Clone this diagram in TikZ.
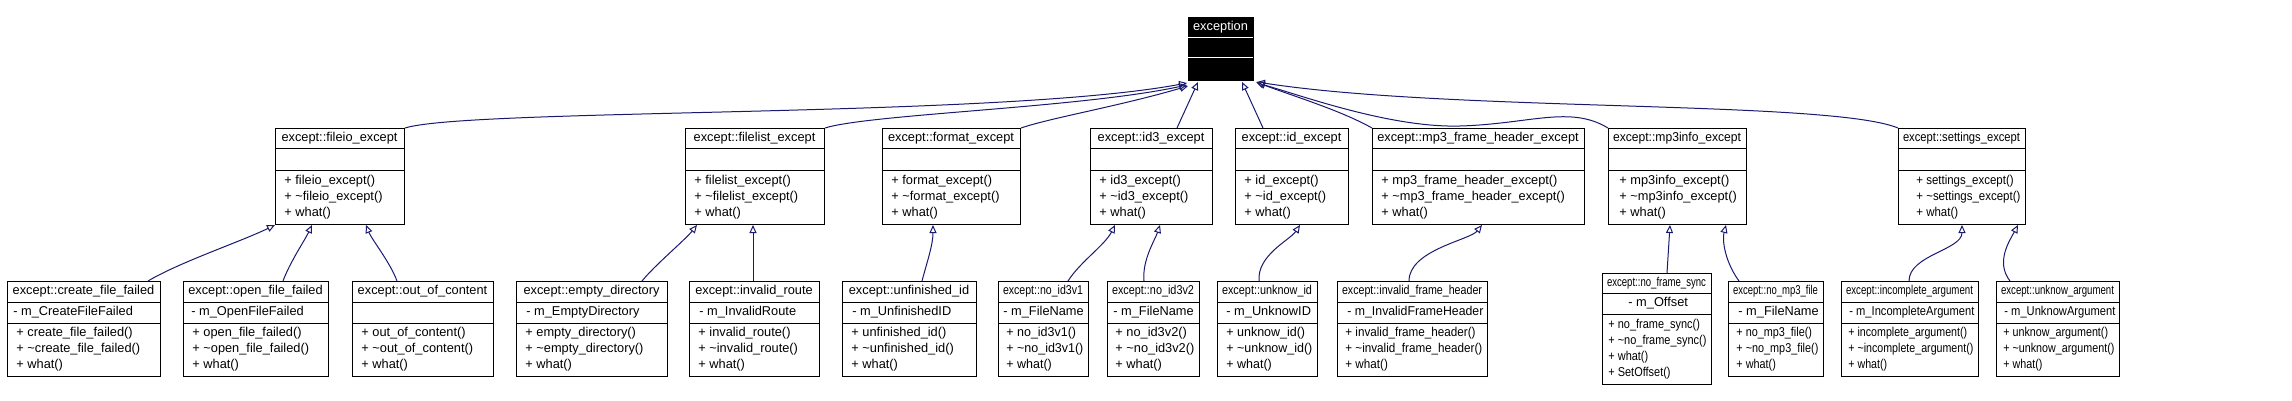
\documentclass[tikz,border=0pt]{standalone}
\usepackage{fontspec}
\setmainfont{Liberation Sans}
\usetikzlibrary{arrows.meta}
\usetikzlibrary{calc}
\definecolor{inheritcolor}{RGB}{25, 25, 112}
\tikzstyle{classtext} = [inner sep=0pt, font=\fontsize{6.4}{8}\selectfont]
\tikzstyle{inherit} = [-{Triangle[open, length=4pt, width=3.5pt]}, line width=0.5pt, inheritcolor]
\newsavebox{\classfitbox}
\newcommand{\fitclasstext}[2]{%
	\sbox{\classfitbox}{#2}%
	\ifdim\wd\classfitbox>#1\relax
		\pgfmathsetmacro{\classfitratio}{#1/\the\wd\classfitbox}%
		\scalebox{\classfitratio}[1]{\usebox{\classfitbox}}%
	\else\usebox{\classfitbox}\fi}
\tikzset{
	class box/.pic={
		\tikzset{/classbox/.cd, #1}
		\pgfmathsetlengthmacro{\ctitlew}{(\cwidth-10)*0.5pt}
		\pgfmathsetlengthmacro{\cattrw}{(\cwidth-\caindent-4)*0.5pt}
		\pgfmathsetlengthmacro{\cmethw}{(\cwidth-\cindent-5)*0.5pt}

		% frame of the class, named by its label
		\node [draw=black, fill=\cfill, line width=0.5pt, inner sep=0pt, anchor=north west, minimum width=\cwidth*0.5pt, minimum height=\cheight*0.5pt] (\clabel) at (0, 0) {};

		% separators between name, attributes and methods
		\draw[\csep, line width=0.5pt] (0, \ctsep) -- (\cwidth, \ctsep);
		\draw[\csep, line width=0.5pt] (0, \casep) -- (\cwidth, \casep);

		% texts
		\node[classtext, text=\ctext] at (\cwidth/2, \ctsep/2) {\fitclasstext{\ctitlew}{\ctitle}};
		\node[classtext, text=\ctext, anchor=west] at (\caindent, \ctsep/2+\casep/2) {\fitclasstext{\cattrw}{\cattr}};
		\node[classtext, text=\ctext, anchor=west] at (\cindent, \casep/2+\cheight/2) {\fitclasstext{\cmethw}{\begin{tabular}{@{}l@{}}\cmethods\end{tabular}}};
	},
	/classbox/.search also={/tikz},
	/classbox/.cd,
	width/.store in=\cwidth,
	height/.store in=\cheight,
	tsep/.store in=\ctsep,
	asep/.store in=\casep,
	indent/.store in=\cindent,
	aindent/.store in=\caindent,
	title/.store in=\ctitle,
	attr/.store in=\cattr,
	methods/.store in=\cmethods,
	label/.store in=\clabel,
	boxfill/.store in=\cfill,
	boxsep/.store in=\csep,
	boxtext/.store in=\ctext,
	width=100,
	height=96,
	tsep=21,
	asep=43,
	indent=9,
	aindent=8,
	title=,
	attr=,
	methods=,
	label=dummy,
	boxfill=white,
	boxsep=black,
	boxtext=black,
}
\newcommand{\tld}{\textasciitilde}

\begin{document}
\begin{tikzpicture}[x=0.5pt, y=-0.5pt]
	\useasboundingbox (0, 0) rectangle (2292, 401);

	%
	% Base class
	\pic at (1188, 17) {class box={width=65, height=63, tsep=21, asep=41, label=exception, title=exception, boxfill=black, boxsep=white, boxtext=white}};

	%
	% Middle row

	\pic at (275, 128) {class box={width=129, label=fileio, title=except::fileio\_except, methods={+ fileio\_except()\\+ \tld fileio\_except()\\+ what()}}};
	\pic at (685, 128) {class box={width=139, label=filelist, title=except::filelist\_except, methods={+ filelist\_except()\\+ \tld filelist\_except()\\+ what()}}};
	\pic at (882, 128) {class box={width=138, label=format, title=except::format\_except, methods={+ format\_except()\\+ \tld format\_except()\\+ what()}}};
	\pic at (1090, 128) {class box={width=122, label=id3, title=except::id3\_except, methods={+ id3\_except()\\+ \tld id3\_except()\\+ what()}}};
	\pic at (1235, 128) {class box={width=113, label=id, title=except::id\_except, methods={+ id\_except()\\+ \tld id\_except()\\+ what()}}};
	\pic at (1372, 128) {class box={width=212, label=mp3fh, title=except::mp3\_frame\_header\_except, methods={+ mp3\_frame\_header\_except()\\+ \tld mp3\_frame\_header\_except()\\+ what()}}};
	\pic at (1608, 128) {class box={width=138, indent=11, label=mp3info, title=except::mp3info\_except, methods={+ mp3info\_except()\\+ \tld mp3info\_except()\\+ what()}}};
	\pic at (1898, 128) {class box={width=127, indent=18, label=settings, title=except::settings\_except, methods={+ settings\_except()\\+ \tld settings\_except()\\+ what()}}};

	%
	% Bottom row

	\pic at (7, 281) {class box={width=153, height=95, asep=42, aindent=6, label=createfile, title=except::create\_file\_failed, attr=- m\_CreateFileFailed, methods={+ create\_file\_failed()\\+ \tld create\_file\_failed()\\+ what()}}};
	\pic at (183, 281) {class box={width=145, height=95, asep=42, label=openfile, title=except::open\_file\_failed, attr=- m\_OpenFileFailed, methods={+ open\_file\_failed()\\+ \tld open\_file\_failed()\\+ what()}}};
	\pic at (352, 281) {class box={width=141, height=95, asep=42, label=outofcontent, title=except::out\_of\_content, methods={+ out\_of\_content()\\+ \tld out\_of\_content()\\+ what()}}};
	\pic at (516, 281) {class box={width=151, height=95, asep=42, aindent=10, label=emptydir, title=except::empty\_directory, attr=- m\_EmptyDirectory, methods={+ empty\_directory()\\+ \tld empty\_directory()\\+ what()}}};
	\pic at (689, 281) {class box={width=130, height=95, asep=42, aindent=10, label=invalidroute, title=except::invalid\_route, attr=- m\_InvalidRoute, methods={+ invalid\_route()\\+ \tld invalid\_route()\\+ what()}}};
	\pic at (842, 281) {class box={width=134, height=95, asep=42, aindent=10, label=unfinished, title=except::unfinished\_id, attr=- m\_UnfinishedID, methods={+ unfinished\_id()\\+ \tld unfinished\_id()\\+ what()}}};
	\pic at (998, 281) {class box={width=90, height=95, asep=42, indent=8, aindent=5, label=noidvone, title=except::no\_id3v1, attr=- m\_FileName, methods={+ no\_id3v1()\\+ \tld no\_id3v1()\\+ what()}}};
	\pic at (1107, 281) {class box={width=92, height=95, asep=42, indent=8, aindent=6, label=noidvtwo, title=except::no\_id3v2, attr=- m\_FileName, methods={+ no\_id3v2()\\+ \tld no\_id3v2()\\+ what()}}};
	\pic at (1217, 281) {class box={width=100, height=95, asep=42, aindent=9, label=unknowid, title=except::unknow\_id, attr=- m\_UnknowID, methods={+ unknow\_id()\\+ \tld unknow\_id()\\+ what()}}};
	\pic at (1337, 281) {class box={width=150, height=95, asep=42, indent=8, aindent=10, label=invalidfh, title=except::invalid\_frame\_header, attr=- m\_InvalidFrameHeader, methods={+ invalid\_frame\_header()\\+ \tld invalid\_frame\_header()\\+ what()}}};
	\pic at (1602, 273) {class box={width=109, height=111, tsep=20, asep=41, indent=6, aindent=26, label=noframesync, title=except::no\_frame\_sync, attr=- m\_Offset, methods={+ no\_frame\_sync()\\+ \tld no\_frame\_sync()\\+ what()\\+ SetOffset()}}};
	\pic at (1728, 281) {class box={width=95, height=95, asep=42, indent=8, aindent=10, label=nompthree, title=except::no\_mp3\_file, attr=- m\_FileName, methods={+ no\_mp3\_file()\\+ \tld no\_mp3\_file()\\+ what()}}};
	\pic at (1841, 281) {class box={width=137, height=95, asep=42, indent=7, label=incomplete, title=except::incomplete\_argument, attr=- m\_IncompleteArgument, methods={+ incomplete\_argument()\\+ \tld incomplete\_argument()\\+ what()}}};
	\pic at (1996, 281) {class box={width=123, height=95, asep=42, indent=7, label=unknowarg, title=except::unknow\_argument, attr=- m\_UnknowArgument, methods={+ unknow\_argument()\\+ \tld unknow\_argument()\\+ what()}}};

	%
	% Inheritance, middle row to base class
	\draw[inherit] (fileio.north east) .. controls (470, 108) and (1000, 118) .. ($(exception.south west)+(-1, 2)$);
	\draw[inherit] (filelist.north east) .. controls (870, 114) and (1080, 108) .. ($(exception.south west)+(-1, 4)$);
	\draw[inherit] (format.north east) .. controls (1050, 118) and (1120, 106) .. ($(exception.south west)+(0, 5)$);
	\draw[inherit] ($(id3.north west)+(87, 0)$) -- ($(exception.south west)+(10, 1)$);
	\draw[inherit] ($(id.north west)+(28, 0)$) -- ($(exception.south west)+(54, 1)$);
	\draw[inherit] (mp3fh.north west) .. controls (1340, 110) and (1290, 95) .. ($(exception.south east)+(2, 1)$);
	\draw[inherit] (mp3info.north west) .. controls (1570, 105) and (1530, 124) .. (1460, 126) .. controls (1390, 128) and (1300, 95) .. ($(exception.south east)+(3, 2)$);
	\draw[inherit] (settings.north west) .. controls (1830, 100) and (1450, 112) .. ($(exception.south east)+(3, 1)$);

	%
	% Inheritance, bottom row to middle row
	\draw[inherit] ($(createfile.north west)+(141, 0)$) .. controls (180, 262) and (240, 242) .. (fileio.south west);
	\draw[inherit] ($(openfile.north west)+(100, 0)$) .. controls (290, 262) and (305, 240) .. ($(fileio.south west)+(37, 0)$);
	\draw[inherit] ($(outofcontent.north west)+(45, 0)$) .. controls (390, 262) and (372, 240) .. ($(fileio.south west)+(91, 0)$);
	\draw[inherit] ($(emptydir.north west)+(126, 0)$) .. controls (655, 265) and (685, 240) .. ($(filelist.south west)+(12, 0)$);
	\draw[inherit] ($(invalidroute.north west)+(64, 0)$) -- ($(filelist.south west)+(68, 0)$);
	\draw[inherit] ($(unfinished.north west)+(80, 0)$) .. controls (927, 262) and (933, 245) .. ($(format.south west)+(51, 0)$);
	\draw[inherit] ($(noidvone.north west)+(70, 0)$) .. controls (1080, 262) and (1105, 245) .. ($(id3.south west)+(25, 0)$);
	\draw[inherit] ($(noidvtwo.north west)+(37, 0)$) .. controls (1142, 260) and (1155, 240) .. ($(id3.south west)+(70, 0)$);
	\draw[inherit] ($(unknowid.north west)+(42, 0)$) .. controls (1257, 255) and (1290, 240) .. ($(id.south west)+(65, 0)$);
	\draw[inherit] ($(invalidfh.north west)+(72, 0)$) .. controls (1409, 250) and (1470, 240) .. ($(mp3fh.south west)+(110, 0)$);
	\draw[inherit] ($(noframesync.north west)+(65, 0)$) -- ($(mp3info.south west)+(62, 0)$);
	\draw[inherit] ($(nompthree.north west)+(11, 0)$) .. controls (1725, 262) and (1722, 240) .. ($(mp3info.south west)+(118, 0)$);
	\draw[inherit] ($(incomplete.north west)+(68, 0)$) .. controls (1909, 255) and (1962, 250) .. ($(settings.south west)+(64, 0)$);
	\draw[inherit] ($(unknowarg.north west)+(14, 0)$) .. controls (1995, 262) and (2010, 240) .. ($(settings.south east)+(-8, 0)$);

\end{tikzpicture}
\end{document}
